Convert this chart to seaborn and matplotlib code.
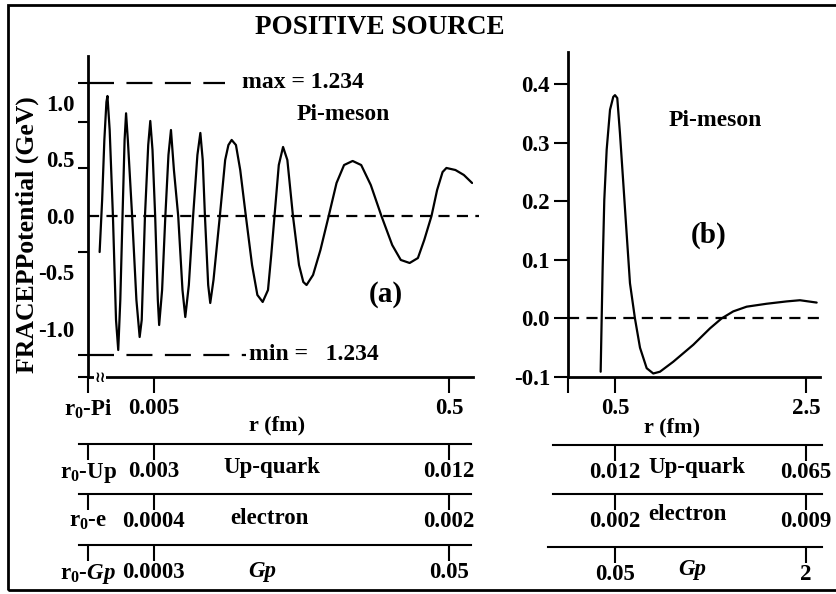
import numpy as np
import pandas as pd
import matplotlib
matplotlib.use("Agg")
import matplotlib.pyplot as plt
import matplotlib.ticker as mticker
from matplotlib.patches import Rectangle
import seaborn as sns

# ---------------- data ----------------
# panel (a): log10 of r (fm) and FRACEP potential (GeV)
log_r_a = [-2.666, -2.649, -2.634, -2.620, -2.613, -2.598, -2.576, -2.555, -2.540, -2.526,
           -2.511, -2.497, -2.487, -2.475, -2.446, -2.417, -2.395, -2.381, -2.359, -2.337,
           -2.323, -2.308, -2.290, -2.272, -2.263, -2.243, -2.221, -2.200, -2.183, -2.163,
           -2.134, -2.105, -2.086, -2.062, -2.033, -2.004, -1.984, -1.968, -1.953, -1.931,
           -1.917, -1.895, -1.852, -1.816, -1.794, -1.772, -1.743, -1.714, -1.676, -1.634,
           -1.598, -1.562, -1.526, -1.504, -1.482, -1.453, -1.424, -1.395, -1.357, -1.316,
           -1.287, -1.265, -1.221, -1.171, -1.115, -1.062, -1.011, -0.953, -0.895, -0.830,
           -0.758, -0.685, -0.627, -0.567, -0.511, -0.468, -0.419, -0.381, -0.344, -0.318,
           -0.257, -0.200, -0.144]
pot_a = [-0.319, 0.142, 0.673, 1.009, 1.062, 0.761, 0.0, -0.920, -1.186, -0.743,
         0.0, 0.673, 0.909, 0.673, 0.0, -0.743, -1.071, -0.920, 0.0, 0.628,
         0.841, 0.584, 0.0, -0.743, -0.965, -0.655, 0.0, 0.540, 0.761, 0.407,
         0.0, -0.655, -0.894, -0.611, 0.0, 0.540, 0.735, 0.496, 0.0, -0.611,
         -0.770, -0.566, 0.0, 0.496, 0.628, 0.673, 0.628, 0.407, 0.0, -0.434,
         -0.699, -0.761, -0.655, -0.345, 0.0, 0.451, 0.611, 0.496, 0.0, -0.434,
         -0.584, -0.611, -0.522, -0.301, 0.0, 0.292, 0.451, 0.487, 0.451, 0.274,
         0.0, -0.257, -0.389, -0.416, -0.372, -0.212, 0.0, 0.230, 0.389, 0.425,
         0.407, 0.363, 0.292]

# panel (b): r (fm) and potential (GeV)
r_b = [0.35, 0.371, 0.388, 0.413, 0.448, 0.482, 0.500, 0.524, 0.552, 0.587,
       0.622, 0.657, 0.709, 0.762, 0.832, 0.901, 0.971, 1.11, 1.32, 1.495,
       1.617, 1.739, 1.879, 2.088, 2.298, 2.437, 2.612]
pot_b = [-0.091, 0.088, 0.202, 0.288, 0.356, 0.378, 0.381, 0.376, 0.316, 0.231,
         0.145, 0.060, 0.0, -0.050, -0.085, -0.094, -0.091, -0.074, -0.045, -0.017,
         0.0, 0.012, 0.020, 0.025, 0.029, 0.031, 0.027]

max_level = 1.18
min_level = -1.23

r0_pi = 0.0018
xticks_a = [r0_pi, 0.005, 0.5]
xlabels_a = [r"r$_0$-Pi", "0.005", "0.5"]
yticks_a = [1.0, 0.5, 0.0, -0.5, -1.0]
ylabels_a = ["1.0", "0.5", "0.0", "-0.5", "-1.0"]
ymarks_a = [1.18, 0.832, 0.425, 0.0, -0.319, -1.23, -1.425]

xticks_b = [0.008, 0.5, 2.5]
xlabels_b = ["", "0.5", "2.5"]
yticks_b = [0.4, 0.3, 0.2, 0.1, 0.0, -0.1]
ylabels_b = ["0.4", "0.3", "0.2", "0.1", "0.0", "-0.1"]

row_names = ["Up-quark", "electron", "Gp"]
row_labels_left = [[r"r$_0$-Up", "0.003", "0.012"],
                   [r"r$_0$-e", "0.0004", "0.002"],
                   [r"r$_0$-$\mathit{Gp}$", "0.0003", "0.05"]]
row_labels_right = [["0.012", "0.065"],
                    ["0.002", "0.009"],
                    ["0.05", "2"]]

# ---------------- style ----------------
sns.set_theme(style="ticks")
plt.rcParams["font.family"] = ["Liberation Serif", "DejaVu Serif"]
plt.rcParams["font.weight"] = "bold"
plt.rcParams["mathtext.fontset"] = "custom"
plt.rcParams["mathtext.rm"] = "Liberation Serif:bold"
plt.rcParams["mathtext.bf"] = "Liberation Serif:bold"
plt.rcParams["mathtext.it"] = "Liberation Serif:italic:bold"
plt.rcParams["mathtext.default"] = "bf"
for k in ["text.color", "axes.labelcolor", "xtick.color", "ytick.color", "axes.edgecolor"]:
    plt.rcParams[k] = "black"

W, H = 836, 594
fig = plt.figure(figsize=(W / 100, H / 100), dpi=100)
fig.patch.set_facecolor("white")

TICK_FS = 16.5


def fx(px):
    return px / W


def fy(py):
    return 1 - py / H


def add_ax(x0, y_top, x1, y_bot):
    return fig.add_axes([fx(x0), fy(y_bot), fx(x1) - fx(x0), fy(y_top) - fy(y_bot)])


def ftext(x, y, s, size=16.5, **kw):
    fig.text(fx(x), fy(y), s, ha="center", va="center", size=size, weight="bold", **kw)


LW = 1.6
ZERO_DASH = (0, (5, 3.3))
LONG_DASH = (0, (11.7, 5.6))

# ---------------- panel (a) ----------------
ax_a = add_ax(88, 56, 473, 377)
df_a = pd.DataFrame({"r": 10 ** np.array(log_r_a), "V": pot_a})
sns.lineplot(data=df_a, x="r", y="V", ax=ax_a, color="black", lw=LW,
             sort=False, estimator=None)
ax_a.set_xscale("log")
ax_a.set_xlim(r0_pi, 10 ** -0.138)
ax_a.set_ylim(-1.425, 1.416)
ax_a.set_xlabel("")
ax_a.set_ylabel("")
ax_a.patch.set_visible(False)
for s in ["top", "right"]:
    ax_a.spines[s].set_visible(False)
for s in ["left", "bottom"]:
    ax_a.spines[s].set_linewidth(2)
ax_a.xaxis.set_minor_locator(mticker.NullLocator())
ax_a.set_xticks(xticks_a)
ax_a.set_xticklabels(xlabels_a)
ax_a.tick_params(axis="x", which="major", direction="out", length=11.5, width=1.5,
                 pad=3.5, labelsize=TICK_FS)
ax_a.set_yticks(yticks_a)
ax_a.set_yticklabels(ylabels_a)
ax_a.yaxis.set_minor_locator(mticker.FixedLocator(ymarks_a))
ax_a.tick_params(axis="y", which="major", length=0, pad=9.5, labelsize=TICK_FS)
ax_a.tick_params(axis="y", which="minor", left=True, direction="out", length=7.5, width=1.5)

ax_a.axhline(0, xmin=0, xmax=1.015, color="black", lw=LW, ls=ZERO_DASH, clip_on=False)
ax_a.axhline(max_level, xmin=0, xmax=0.356, color="black", lw=LW, ls=LONG_DASH)
ax_a.axhline(min_level, xmin=0, xmax=0.41, color="black", lw=LW, ls=LONG_DASH)

# axis break symbol
fig.text(fx(100), fy(377), "\u2240\u2240", family="DejaVu Sans", size=11,
         ha="center", va="center",
         bbox=dict(facecolor="white", edgecolor="none", pad=0.3))

# ---------------- panel (b) ----------------
ax_b = add_ax(568, 52, 820, 377)
df_b = pd.DataFrame({"r": r_b, "V": pot_b})
sns.lineplot(data=df_b, x="r", y="V", ax=ax_b, color="black", lw=LW,
             sort=False, estimator=None)
ax_b.set_xlim(0.008, 2.647)
ax_b.set_ylim(-0.1, 0.4546)
ax_b.set_xlabel("")
ax_b.set_ylabel("")
ax_b.patch.set_visible(False)
for s in ["top", "right"]:
    ax_b.spines[s].set_visible(False)
for s in ["left", "bottom"]:
    ax_b.spines[s].set_linewidth(2)
ax_b.set_xticks(xticks_b)
ax_b.set_xticklabels(xlabels_b)
ax_b.tick_params(axis="x", direction="out", length=11.5, width=1.5, pad=3.5, labelsize=TICK_FS)
ax_b.set_yticks(yticks_b)
ax_b.set_yticklabels(ylabels_b)
ax_b.tick_params(axis="y", direction="out", length=10, width=1.5, pad=3, labelsize=TICK_FS)
ax_b.axhline(0, xmin=0, xmax=1.012, color="black", lw=LW, ls=ZERO_DASH, clip_on=False)


# ---------------- secondary scale rows ----------------
def row(x0, x1, y, xlim, ticks, labels, log):
    ax = fig.add_axes([fx(x0), fy(y), fx(x1) - fx(x0), 0.0001])
    if log:
        ax.set_xscale("log")
        ax.xaxis.set_minor_locator(mticker.NullLocator())
    ax.set_xlim(*xlim)
    ax.set_xticks(ticks)
    ax.set_xticklabels(labels)
    ax.set_yticks([])
    for s in ["top", "left", "right"]:
        ax.spines[s].set_visible(False)
    ax.spines["bottom"].set_linewidth(1.5)
    ax.tick_params(axis="x", direction="out", length=11.5, width=1.5, pad=1, labelsize=TICK_FS)
    ax.patch.set_visible(False)
    return ax


row_y = [444, 494, 545]
row_y_right = [445, 494, 547]
for i in range(3):
    row(78.6, 471, row_y[i], (0.00155, 0.705), xticks_a, row_labels_left[i], True)
    x0r = 553 if i < 2 else 548
    row(x0r, 822, row_y_right[i], (0.5 + (x0r - 615) / 95.5, 2.668), [0.5, 2.5],
        row_labels_right[i], False)

ftext(272, 468, row_names[0])
ftext(269, 519, row_names[1])
ftext(262, 571, row_names[2], style="italic")
ftext(697, 467, row_names[0])
ftext(687, 514, row_names[1])
ftext(692, 569, row_names[2], style="italic")

# ---------------- labels ----------------
ftext(380, 28, "POSITIVE SOURCE", size=19.5)
fig.text(fx(27), fy(235), "FRACEPPotential (GeV)", rotation=90, ha="center",
         va="center", size=18.5, weight="bold")
ftext(303, 82, "max = 1.234", size=17)
ftext(314, 354, "min =   1.234", size=17)
ftext(343, 115, "Pi-meson", size=17)
ftext(386, 295, "(a)", size=21)
ftext(715, 120, "Pi-meson", size=17)
ftext(709, 235, "(b)", size=21)
ftext(277, 425, "r (fm)", size=16)
ftext(672, 427, "r (fm)", size=16)

# outer frame
fig.add_artist(Rectangle((fx(8), fy(590)), 1.2, fy(5) - fy(590), transform=fig.transFigure,
                         fill=False, lw=2, edgecolor="black"))

fig.savefig("out.png", dpi=100)
